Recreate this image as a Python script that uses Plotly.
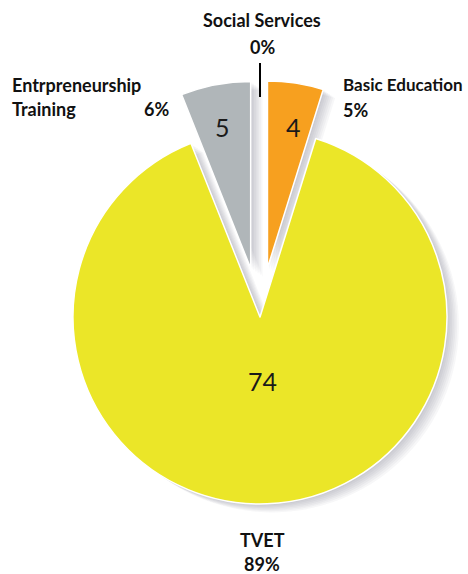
import math
import plotly.graph_objects as go

# Funding split by programme area (counts of projects)
categories = ["Basic Education", "TVET", "Entrpreneurship Training", "Social Services"]
values = [4, 74, 5, 0]
colors = ["#F7A01F", "#EBE628", "#B0B6B9", "#9A9A9A"]

W, H = 468, 574
R = 187                      # pie radius in px
BASE = (260, 317)            # apex of the un-pulled slice
PULL_PX = 49.5               # outward offset of the small wedges

total = sum(values)
pct = [round(v / total * 100) for v in values]

starts = []
acc = 0
for v in values:
    starts.append(acc)
    acc += v
mid_angle = [math.radians((s + v / 2) / total * 360) for s, v in zip(starts, values)]

pulled = {0: True, 1: False, 2: True}


def wedge_center(idx):
    cx, cy = BASE
    if pulled[idx]:
        cx += PULL_PX * math.sin(mid_angle[idx])
        cy -= PULL_PX * math.cos(mid_angle[idx])
    return cx, cy


def domain_for(cx, cy):
    return dict(
        x=[(cx - R) / W, (cx + R) / W],
        y=[1 - (cy + R) / H, 1 - (cy - R) / H],
    )


def wedge_trace(idx, cx, cy, fill, line_color, line_width):
    slice_colors = ["rgba(0,0,0,0)"] * len(values)
    slice_colors[idx] = fill
    line_colors = ["rgba(0,0,0,0)"] * len(values)
    line_colors[idx] = line_color
    return go.Pie(
        labels=categories,
        values=values,
        sort=False,
        direction="clockwise",
        rotation=0,
        domain=domain_for(cx, cy),
        marker=dict(colors=slice_colors, line=dict(color=line_colors, width=line_width)),
        textinfo="none",
        showlegend=False,
        hoverinfo="skip",
    )


fig = go.Figure()

# soft drop shadow: stacked translucent copies shifted down-right
for k in range(7, 0, -1):
    for idx in [1, 0, 2]:
        cx, cy = wedge_center(idx)
        fig.add_trace(wedge_trace(idx, cx + 1.7 * k, cy + 1.2 * k,
                                  "rgba(60,60,70,0.04)", "rgba(0,0,0,0)", 0))

for idx in [1, 0, 2]:
    cx, cy = wedge_center(idx)
    t = wedge_trace(idx, cx, cy, colors[idx], "white", 1.5)
    t.hoverinfo = "label+value+percent"
    fig.add_trace(t)

# value numbers inside the wedges
value_pos = {1: (262, 381), 0: (293, 127), 2: (222, 127)}
for idx, (x, y) in value_pos.items():
    fig.add_annotation(
        x=x / W, y=1 - y / H, xref="paper", yref="paper",
        text=str(values[idx]), showarrow=False,
        xanchor="center", yanchor="middle",
        font=dict(family="Lato", size=25, color="#1a1a1a"),
    )

annotations = [
    dict(x=262, y=20, text="<b>Social Services</b>", xanchor="center", size=18),
    dict(x=262, y=47, text=f"<b>{pct[3]}%</b>", xanchor="center", size=18),
    dict(x=10, y=85, text="<b>Entrpreneurship</b>", xanchor="left", size=18),
    dict(x=10, y=109, text="<b>Training</b>", xanchor="left", size=18),
    dict(x=171, y=109, text=f"<b>{pct[2]}%</b>", xanchor="right", size=18),
    dict(x=341, y=84, text="<b>Basic Education</b>", xanchor="left", size=17),
    dict(x=341, y=110, text=f"<b>{pct[0]}%</b>", xanchor="left", size=18),
    dict(x=262, y=540, text="<b>TVET</b>", xanchor="center", size=18),
    dict(x=262, y=564, text=f"<b>{pct[1]}%</b>", xanchor="center", size=18),
]
for a in annotations:
    fig.add_annotation(
        x=a["x"] / W, y=1 - a["y"] / H, xref="paper", yref="paper",
        text=a["text"], xanchor=a["xanchor"], yanchor="middle",
        showarrow=False, font=dict(family="Lato", size=a["size"], color="#111111"),
    )

# zero-value wedge drawn as a thin marker line at 12 o'clock
fig.add_shape(type="line", xref="paper", yref="paper",
              x0=260 / W, x1=260 / W, y0=1 - 63 / H, y1=1 - 97 / H,
              line=dict(color="black", width=2))

fig.update_layout(
    width=W, height=H,
    margin=dict(l=0, r=0, t=0, b=0),
    paper_bgcolor="white",
    plot_bgcolor="white",
)

fig.write_html("out.html")
